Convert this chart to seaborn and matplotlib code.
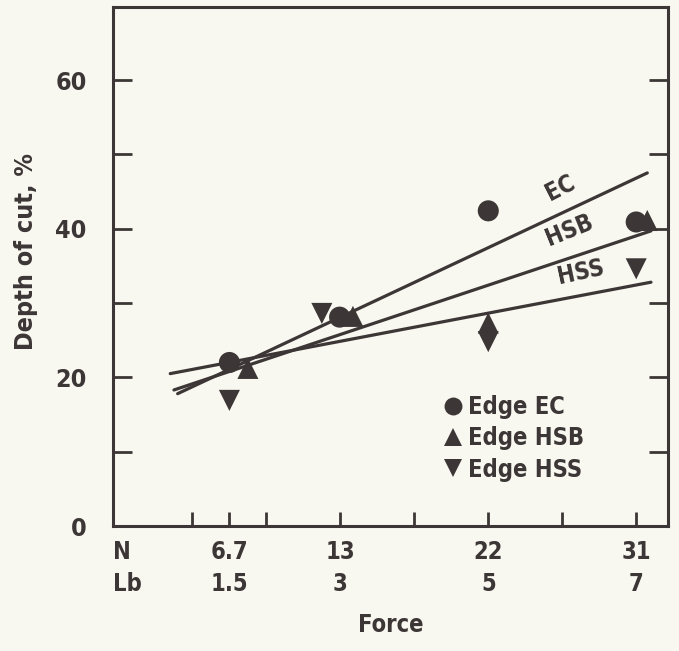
import matplotlib
matplotlib.use("Agg")
import matplotlib.pyplot as plt
from matplotlib import font_manager
import seaborn as sns
import pandas as pd

# ---- data (force in Lb on x; N labels shown alongside) ----
lb_ticks = [1.5, 3, 5, 7]
n_labels = ["6.7", "13", "22", "31"]
lb_labels = ["1.5", "3", "5", "7"]
minor_x = [1, 2, 4, 6]

ec_x = [1.5, 2.99, 5.0, 7.0]
ec_y = [22.0, 28.1, 42.4, 40.9]
hsb_x = [1.75, 3.17, 5.0, 7.15]
hsb_y = [21.2, 28.2, 27.3, 41.1]
hss_x = [1.5, 2.75, 5.0, 7.0]
hss_y = [16.9, 28.6, 24.8, 34.6]

# fitted lines (endpoints)
ec_line_x = [0.8, 7.15]
ec_line_y = [17.8, 47.5]
hsb_line_x = [0.75, 7.2]
hsb_line_y = [18.3, 39.7]
hss_line_x = [0.7, 7.2]
hss_line_y = [20.5, 32.8]

y_major = [0, 20, 40, 60]
y_minor = [10, 30, 50]

INK = "#3d3636"
BG = "#f8f8f0"

sns.set_theme(style="ticks")
names = {f.name for f in font_manager.fontManager.ttflist}
if "Liberation Sans Narrow" in names:
    fam = ["Liberation Sans Narrow", "DejaVu Sans"]
    stretch = "normal"
else:
    fam = ["DejaVu Sans"]
    stretch = "condensed"
plt.rcParams["font.family"] = fam
plt.rcParams["font.stretch"] = stretch
plt.rcParams["font.weight"] = "bold"

fig = plt.figure(figsize=(6.79, 6.51), dpi=100, facecolor=BG)
ax = fig.add_axes([0.1664, 0.192, 0.8174, 0.797])
ax.set_facecolor(BG)

pts = pd.DataFrame({
    "x": ec_x + hsb_x + hss_x,
    "y": ec_y + hsb_y + hss_y,
    "series": ["Edge EC"] * 4 + ["Edge HSB"] * 4 + ["Edge HSS"] * 4,
})
lines = pd.DataFrame({
    "x": ec_line_x + hsb_line_x + hss_line_x,
    "y": ec_line_y + hsb_line_y + hss_line_y,
    "fit": ["EC"] * 2 + ["HSB"] * 2 + ["HSS"] * 2,
})

sns.lineplot(data=lines, x="x", y="y", units="fit", estimator=None,
             color=INK, linewidth=2.3, ax=ax, legend=False, sort=False)
sns.scatterplot(data=pts, x="x", y="y", style="series",
                markers={"Edge EC": "o", "Edge HSB": "^", "Edge HSS": "v"},
                color=INK, s=230, edgecolor=INK, linewidth=0, ax=ax, zorder=3)

ax.set_xlim(-0.074, 7.43)
ax.set_ylim(0, 69.8)

for s in ax.spines.values():
    s.set_color(INK)
    s.set_linewidth(2.2)

fs = 17
ax.set_xticks(lb_ticks)
ax.set_xticklabels([f"{n}\n{l}" for n, l in zip(n_labels, lb_labels)],
                   fontsize=fs, fontweight="bold", color=INK, linespacing=1.45)
ax.set_xticks(minor_x, minor=True)
ax.set_yticks(y_major)
ax.set_yticklabels([str(v) for v in y_major], fontsize=fs + 1,
                   fontweight="bold", color=INK)
ax.set_yticks(y_minor, minor=True)
ax.tick_params(axis="x", which="both", direction="in", length=10, width=2,
               color=INK, pad=10, top=False)
ax.tick_params(axis="y", which="both", direction="in", length=14, width=2,
               color=INK, pad=19, left=True, right=True)

ax.annotate("N\nLb", xy=(0, 0), xycoords="axes fraction",
            xytext=(0, -10), textcoords="offset points",
            ha="left", va="top", fontsize=fs, fontweight="bold",
            color=INK, linespacing=1.45)

ax.set_xlabel("Force", fontsize=fs, fontweight="bold", color=INK, labelpad=12)
ax.set_ylabel("Depth of cut, %", fontsize=fs + 1, fontweight="bold", color=INK)
ax.yaxis.set_label_coords(-0.135, 0.53)

# line labels
ax.text(5.97, 45.5, "EC", rotation=27, ha="center", va="center",
        fontsize=fs, fontweight="bold", color=INK)
ax.text(6.1, 39.8, "HSB", rotation=22, ha="center", va="center",
        fontsize=fs, fontweight="bold", color=INK)
ax.text(6.25, 34.2, "HSS", rotation=12, ha="center", va="center",
        fontsize=fs, fontweight="bold", color=INK)

leg = ax.legend(loc="upper left", bbox_to_anchor=(0.57, 0.27), frameon=False,
                fontsize=fs, handletextpad=0.05, labelspacing=0.3,
                markerscale=0.85, borderaxespad=0, handlelength=1.2)
for t in leg.get_texts():
    t.set_color(INK)
    t.set_fontweight("bold")

fig.savefig("out.png", dpi=100, facecolor=BG)
